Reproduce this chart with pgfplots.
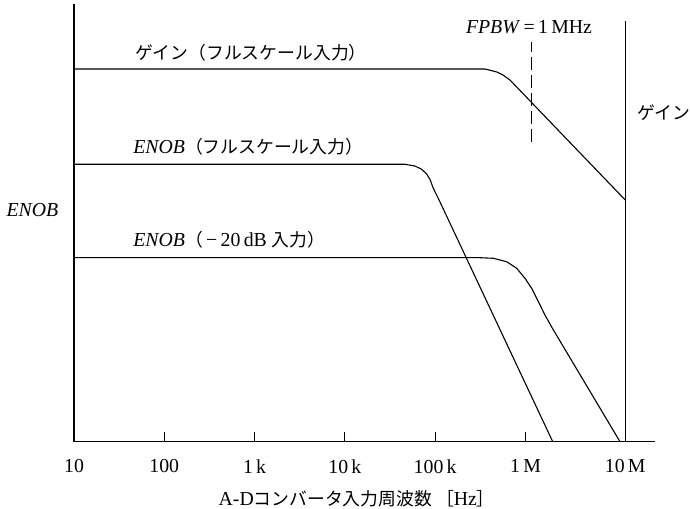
\documentclass[border=0pt]{standalone}
\usepackage{fontspec}
\setmainfont{Liberation Serif}
\newfontfamily\jp{Noto Sans CJK JP}[Scale=0.9]
\usepackage{pgfplots}
\pgfplotsset{compat=1.18}
\begin{document}
\begin{tikzpicture}[font=\fontsize{9.9bp}{11.8bp}\selectfont]
\begin{axis}[name=ax, scale only axis,
  width=290.5bp, height=218.75bp,
  xmode=log, xmin=10, xmax=2.72e7, ymin=0, ymax=437.5,
  axis x line=bottom, axis y line=left,
  axis line style={-, line width=0.55bp, black},
  xtick={10,100,1000,1e4,1e5,1e6,1.274e7},
  xticklabels={10,100,1\,k,10\,k,100\,k,1\,M,10\,M},
  xminorticks=false,
  ytick=\empty,
  tick align=inside, major tick length=5bp,
  tick style={black, line width=0.55bp},
  xticklabel style={yshift=-5.5bp},
  clip=false,
  crv/.style={black, line width=0.55bp, mark=none}]
% gain (full-scale input)
\addplot[crv] coordinates {(10,372.5) (3.56e5,372.5) (4.15e5,371) (4.83e5,369.5) (5.63e5,366.5) (6.73e5,361.5) (1.274e7,241.5)};
% ENOB (full-scale input)
\addplot[crv] coordinates {(10,277.2) (4.63e4,277.2) (5.97e4,275.5) (7.09e4,272.2) (8.05e4,267.5) (8.75e4,262.2) (9.53e4,253.2) (1.082e5,243.2) (2.00e6,0)};
% ENOB (-20 dB input)
\addplot[crv] coordinates {(10,183.8) (3.13e5,183.8) (4.40e5,183.2) (6.19e5,179.8) (8.00e5,173.2) (9.87e5,163.2) (1.172e6,153.2) (1.387e6,140) (1.644e6,126.5) (1.965e6,114) (2.41e6,100.5) (1.111e7,0)};
% right gain axis line
\addplot[crv] coordinates {(1.274e7,0) (1.274e7,420)};
% FPBW marker
\addplot[black, line width=0.55bp, dash pattern=on 6.5bp off 2.5bp] coordinates {(1.172e6,299.5) (1.172e6,399.5)};
% labels
\node[anchor=west, inner sep=0pt] at (axis cs:47.4,388.5) {\jp ゲイン（フルスケール入力）};
\node[anchor=west, inner sep=0pt] at (axis cs:45.0,294.5) {\textit{ENOB}{\jp （フルスケール入力）}};
\node[anchor=west, inner sep=0pt] at (axis cs:45.0,201.5) {\textit{ENOB}{\jp （}\,−\,20\,dB {\jp 入力）}};
\node[inner sep=0pt] at (axis cs:1.094e6,414.5) {\textit{FPBW}\,=\,1\,MHz};
\node[inner sep=0pt] at (axis cs:3.47,231.5) {\textit{ENOB}};
\node[anchor=west, inner sep=0pt] at (axis cs:1.718e7,328.5) {\jp ゲイン};
\node[inner sep=0pt] at (axis cs:1.352e4,-57.5) {A-D{\jp コンバータ入力周波数 ［}Hz{\jp ］}};
\end{axis}
\pgfresetboundingbox
\path ([shift={(-37bp,-33.75bp)}]ax.south west) rectangle ([shift={(308bp,220.75bp)}]ax.south west);
\end{tikzpicture}
\end{document}
